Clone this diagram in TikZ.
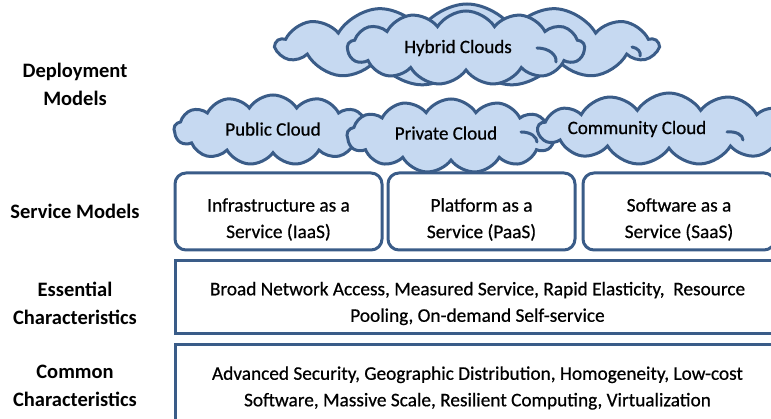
\documentclass[tikz,border=0pt]{standalone}
\usepackage{fontspec}
\setmainfont{Carlito}
\newfontfamily\medfont[FakeBold=0.6]{Carlito}
\usetikzlibrary{shapes.symbols}
\usetikzlibrary{positioning}
\definecolor{mline}{HTML}{3A5C88}
\definecolor{mcloud}{HTML}{C6D9F1}
\tikzset{cloudy/.style = {cloud, cloud puffs=13, cloud puff arc=115, aspect=3, draw=mline, fill=mcloud, line width=3pt, inner sep=0, font=\medfont\fontsize{19}{22}\selectfont}}
\tikzset{hook/.style = {draw=mline, line width=3pt, line cap=round}}
\tikzset{svcbox/.style = {draw=mline, line width=3pt, rounded corners=11pt, inner sep=0}}
\tikzset{charbox/.style = {draw=mline, line width=3pt, inner sep=0, minimum width=605}}
\tikzset{boxtext/.style = {align=center, inner sep=0, font=\medfont\fontsize{19.3}{26.5}\selectfont}}
\tikzset{lefttext/.style = {align=center, font=\bfseries\fontsize{20.5}{28}\selectfont}}

\begin{document}
\begin{tikzpicture}[x=1pt, y=-1pt]
  \useasboundingbox (0,0) rectangle (771,419);
  \clip (0,0) rectangle (771,419);
  % left labels
  \node [lefttext] (deploy) at (75, 84) {Deployment\\Models};
  \node [lefttext] (service) at (75, 211) {Service Models};
  \node [lefttext] (essential) at (75, 303) {Essential\\Characteristics};
  \node [lefttext] (common) at (75, 386) {Common\\Characteristics};
  % hybrid clouds
  \node [cloudy, minimum width=381, minimum height=82] (hybback) at (467, 45) {};
  \draw [hook] (632, 47) .. controls (638, 48) and (641, 52) .. (640, 56);
  \node [cloudy, minimum width=237, minimum height=74] (hybrid) at (466, 48) {\hspace{-16pt}\raisebox{1pt}{Hybrid Clouds}};
  \draw [hook] (537, 48) .. controls (549, 48) and (557, 55) .. (556, 62);
  % lower clouds
  \node [cloudy, minimum width=198, minimum height=70] (public) at (273, 130) {\raisebox{2pt}{Public Cloud}};
  \node [cloudy, minimum width=208, minimum height=74] (private) at (451, 136) {\hspace{-10pt}\raisebox{6pt}{Private Cloud}};
  \draw [hook] (521, 132) .. controls (531, 132) and (537, 137) .. (537, 142);
  \node [cloudy, minimum width=262, minimum height=72] (community) at (669, 129) {\hspace{-64pt}\raisebox{-2pt}{Community Cloud}};
  \draw [hook] (727, 132) .. controls (736, 131) and (743, 135) .. (743, 140);
  % service models
  \node [svcbox, minimum width=207, minimum height=77] (iaas) at (278.5, 211.5) {};
  \node [svcbox, minimum width=187, minimum height=77] (paas) at (481.5, 211.5) {};
  \node [svcbox, minimum width=192, minimum height=77] (saas) at (679, 211.5) {};
  \node [boxtext] (iaastext) at ([yshift=-8pt]iaas.center) {Infrastructure as a\\Service (IaaS)};
  \node [boxtext] (paastext) at ([yshift=-8pt]paas.center) {Platform as a\\Service (PaaS)};
  \node [boxtext] (saastext) at ([yshift=-8pt]saas.center) {Software as a\\Service (SaaS)};
  % characteristics
  \node [charbox, minimum height=73] (essbox) at (477.5, 297.5) {};
  \node [charbox, minimum height=80] (combox) at (477.5, 385) {};
  \node [boxtext] (esstext) at ([yshift=-6pt]essbox.center) {Broad Network Access, Measured Service, Rapid Elasticity,~~Resource\\Pooling, On-demand Self-service};
  \node [boxtext] (comtext) at ([yshift=-3pt]combox.center) {Advanced Security, Geographic Distribution, Homogeneity, Low-cost\\Software, Massive Scale, Resilient Computing, Virtualization};
\end{tikzpicture}
\end{document}
